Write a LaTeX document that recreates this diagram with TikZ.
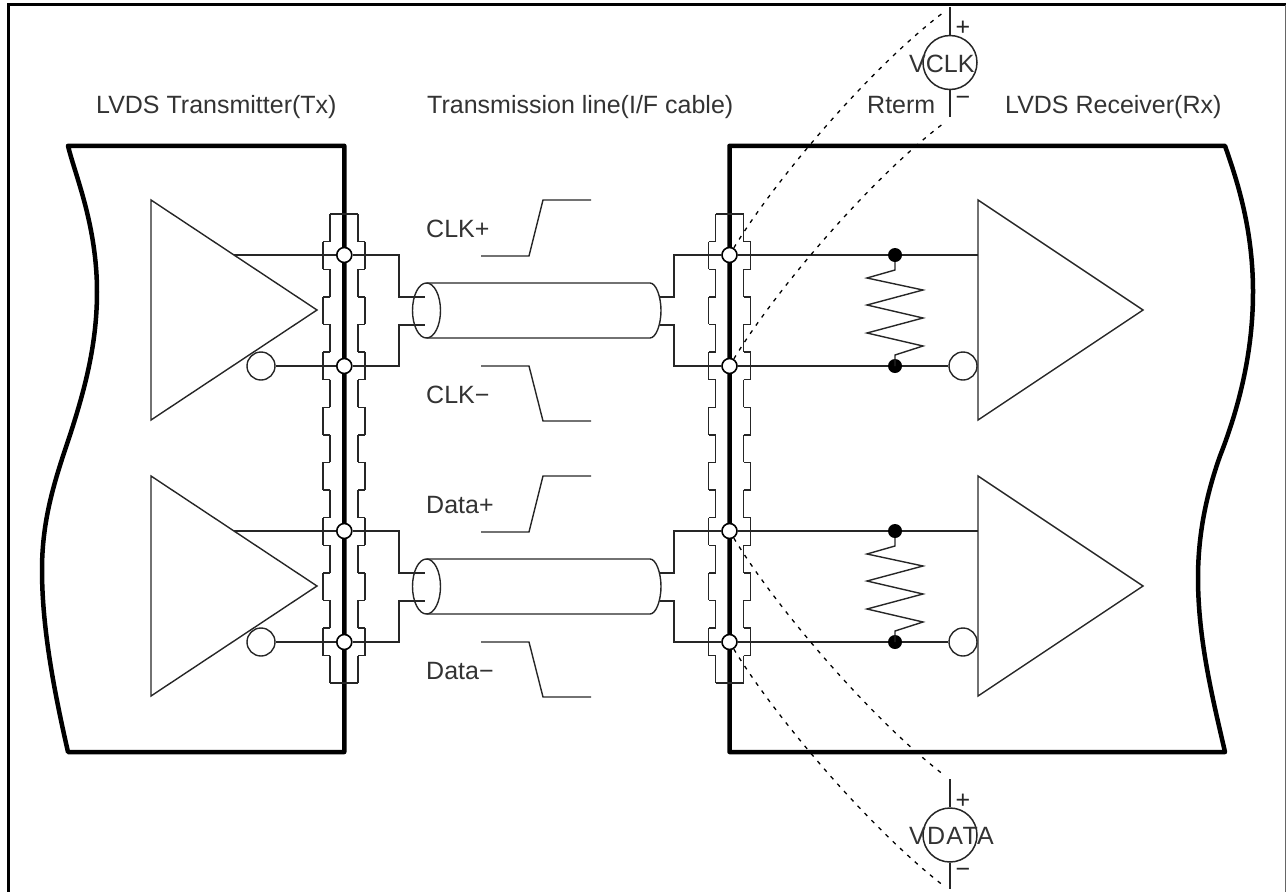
\documentclass[tikz,border=0pt]{standalone}
\usepackage{fontspec}
\setmainfont{Liberation Sans}
\usetikzlibrary{calc}
\tikzset{ 
   wire/.style  = {-, line width=1.4pt, black!85},
   rail/.style  = {-, line width=4.5pt, line join=round},
   frameline/.style = {-, line width=3.5pt},
   probe/.style = {-, line width=1.3pt, dashed, dash pattern=on 4pt off 6pt},
   term/.style  = {circle, draw, fill=white, line width=1.6pt, minimum size=15pt, inner sep=0pt},
   solder/.style = {circle, fill=black, minimum size=14pt, inner sep=0pt},
   bubble/.style = {circle, draw, line width=1.4pt, black!85, minimum size=28pt, inner sep=0pt},
   meter/.style = {circle, draw, line width=1.5pt, black!85, minimum size=54pt, inner sep=0pt},
   caption/.style = {anchor=base west, inner sep=0pt, text=black!80, font=\fontsize{25}{25}\selectfont},
   sign/.style = {anchor=base, inner sep=0pt, text=black!85, font=\fontsize{25}{25}\selectfont},
}
\newcommand{\connbox}[1]{
   \draw[wire] (#1-14,214) -- (#1+14,214);
   \draw[wire] (#1-14,683) -- (#1+14,683);
   \foreach \k in {0,...,16} {
      \pgfmathsetmacro{\ya}{214+27.6*\k}
      \pgfmathsetmacro{\yb}{214+27.6*(\k+1)}
      \pgfmathsetmacro{\off}{isodd(\k) ? 21 : 14}
      \draw[wire] (#1-\off,\ya) -- (#1-\off,\yb);
      \draw[wire] (#1+\off,\ya) -- (#1+\off,\yb);
      \ifnum\k<16
         \draw[wire] (#1-14,\yb) -- (#1-21,\yb);
         \draw[wire] (#1+14,\yb) -- (#1+21,\yb);
      \fi
   }
}
\newcommand{\rterm}[2]{
   \draw[wire] (#1) -- (895,#2+15) -- (867,#2+23) -- (923,#2+35) -- (867,#2+50) -- (923,#2+63)
      -- (867,#2+78) -- (923,#2+91) -- (895,#2+100) -- (895,#2+111);
}
\newcommand{\cable}[1]{
   \draw[wire] (426.5,#1) ellipse (14 and 27.5);
   \draw[wire] (426.5,#1-27.5) -- (650,#1-27.5)
      .. controls (656,#1-27.5) and (661,#1-14) .. (661,#1)
      .. controls (661,#1+14) and (656,#1+27.5) .. (650,#1+27.5)
      -- (426.5,#1+27.5);
}
\begin{document}
\begin{tikzpicture}[x=1pt,y=-1pt]
      \useasboundingbox (0,0) rectangle (1286,892);

      % outer frame
      \draw[frameline] (8.7,892) -- (8.7,4.6) -- (1286,4.6);
      \draw[line width=1pt, black!60] (1285,4.6) -- (1285,892);

      % Tx block
      \draw[rail] (344.3,145.8) -- (68,145.8)
         .. controls (75,175) and (97,225) .. (97,292)
         .. controls (97,350) and (82,400) .. (63,456)
         .. controls (52,490) and (42,525) .. (42,570)
         .. controls (42,630) and (55,695) .. (68,752)
         -- (344.3,752) -- cycle;

      % Rx block
      \draw[rail] (729.5,752) -- (729.5,145.8) -- (1225,145.8)
         .. controls (1235,175) and (1253,225) .. (1253,292)
         .. controls (1253,350) and (1240,405) .. (1220,456)
         .. controls (1208,490) and (1198,530) .. (1198,578)
         .. controls (1198,640) and (1213,700) .. (1225,752)
         -- cycle;

      \connbox{344}
      \connbox{729.5}

      % drivers and receivers
      \draw[wire] (151,200) -- (317,310) -- (151,420) -- cycle;
      \draw[wire] (151,476) -- (317,586) -- (151,696) -- cycle;
      \draw[wire] (978,200) -- (1143,310) -- (978,420) -- cycle;
      \draw[wire] (978,476) -- (1143,586) -- (978,696) -- cycle;

      \coordinate (txclkp) at (234,255);
      \coordinate (txdatp) at (234,531);
      \coordinate (rxclkp) at (978,255);
      \coordinate (rxdatp) at (978,531);
      \coordinate (vclkend) at (944,12);
      \coordinate (vclkret) at (944,123);
      \coordinate (vdatend) at (944,775);
      \coordinate (vdatret) at (944,886);

      \node[bubble] (txclkn) at (261,366) {};
      \node[bubble] (txdatn) at (261,642) {};
      \node[bubble] (rxclkn) at (963,366) {};
      \node[bubble] (rxdatn) at (963,642) {};

      \node[term] (tclkp) at (344.3,255) {};
      \node[term] (tclkn) at (344.3,366) {};
      \node[term] (tdatp) at (344.3,531) {};
      \node[term] (tdatn) at (344.3,642) {};
      \node[term] (rclkp) at (729.5,255) {};
      \node[term] (rclkn) at (729.5,366) {};
      \node[term] (rdatp) at (729.5,531) {};
      \node[term] (rdatn) at (729.5,642) {};

      \node[solder] (sclkp) at (895,255) {};
      \node[solder] (sclkn) at (895,366) {};
      \node[solder] (sdatp) at (895,531) {};
      \node[solder] (sdatn) at (895,642) {};

      \draw[wire] (txclkp) -- (tclkp);
      \draw[wire] (txclkn) -- (tclkn);
      \draw[wire] (txdatp) -- (tdatp);
      \draw[wire] (txdatn) -- (tdatn);
      \draw[wire] (rclkp) -- (sclkp);
      \draw[wire] (sclkp) -- (rxclkp);
      \draw[wire] (rclkn) -- (sclkn);
      \draw[wire] (sclkn) -- (rxclkn);
      \draw[wire] (rdatp) -- (sdatp);
      \draw[wire] (sdatp) -- (rxdatp);
      \draw[wire] (rdatn) -- (sdatn);
      \draw[wire] (sdatn) -- (rxdatn);

      \rterm{sclkp}{255}
      \rterm{sdatp}{531}

      % cables
      \cable{310.5}
      \cable{586.5}
      \draw[wire] (tclkp) -- (399,255) -- (399,297) -- (425,297);
      \draw[wire] (tclkn) -- (399,366) -- (399,325) -- (425,325);
      \draw[wire] (tdatp) -- (399,531) -- (399,573) -- (425,573);
      \draw[wire] (tdatn) -- (399,642) -- (399,601) -- (425,601);
      \draw[wire] (rclkp) -- (674,255) -- (674,297) -- (660,297);
      \draw[wire] (rclkn) -- (674,366) -- (674,325) -- (660,325);
      \draw[wire] (rdatp) -- (674,531) -- (674,573) -- (660,573);
      \draw[wire] (rdatn) -- (674,642) -- (674,601) -- (660,601);

      % waveforms
      \draw[wire] (481,256) -- (529,256) -- (543,200) -- (591,200);
      \draw[wire] (481,366) -- (529,366) -- (543,421) -- (591,421);
      \draw[wire] (481,532) -- (529,532) -- (543,476) -- (591,476);
      \draw[wire] (481,642) -- (529,642) -- (543,697) -- (591,697);

      % meters
      \node[meter] (vclk) at (950,62.5) {};
      \node[meter] (vdata) at (950,835) {};
      \coordinate (vclktop) at (950,7);
      \coordinate (vclkbot) at (950,117);
      \coordinate (vdatatop) at (950,779);
      \coordinate (vdatabot) at (950,889);
      \draw[wire] (vclktop) -- (vclk);
      \draw[wire] (vclk) -- (vclkbot);
      \draw[wire] (vdatatop) -- (vdata);
      \draw[wire] (vdata) -- (vdatabot);

      \draw[probe] (rclkp) .. controls (775,180) and (870,68) .. (vclkend);
      \draw[probe] (rclkn) .. controls (775,291) and (870,179) .. (vclkret);
      \draw[probe] (rdatp) .. controls (775,606) and (870,718) .. (vdatend);
      \draw[probe] (rdatn) .. controls (775,717) and (870,829) .. (vdatret);

      % labels
      \node[caption] (txtitle) at (96,113) {LVDS Transmitter(Tx)};
      \node[caption] (linetitle) at (427,113) {Transmission line(I/F cable)};
      \node[caption] (rtermtitle) at (867,113) {Rterm};
      \node[caption] (rxtitle) at (1005,113) {LVDS Receiver(Rx)};
      \node[caption] (clkptext) at (426,237) {CLK+};
      \node[caption] (clkntext) at (426,403) {CLK−};
      \node[caption] (datptext) at (426,513) {Data+};
      \node[caption] (datntext) at (426,679) {Data−};
      \node[caption] (vclktext) at (909,72) {VCLK};
      \node[caption] (vdatatext) at (909,844) {\addfontfeature{LetterSpace=5}VDATA};
      \node[sign] (vclkplus) at (963,35) {+};
      \node[sign] (vclkminus) at (963,105) {−};
      \node[sign] (vdataplus) at (963,808) {+};
      \node[sign] (vdataminus) at (963,877) {−};
\end{tikzpicture}
\end{document}
